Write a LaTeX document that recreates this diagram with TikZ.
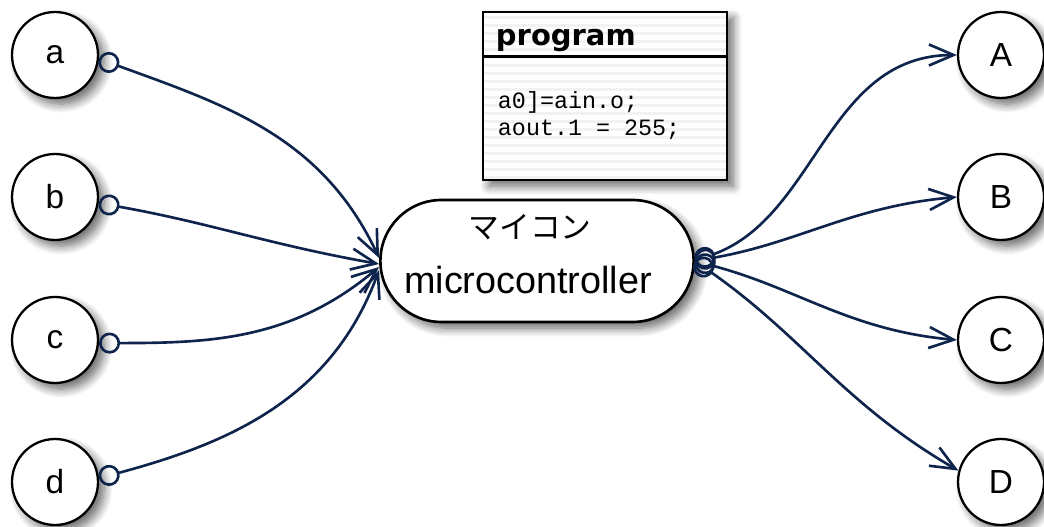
\documentclass[tikz,border=0pt]{standalone}
\usepackage{fontspec}
\setmainfont{Liberation Sans}
\newfontfamily\jpfont{Noto Sans CJK JP}
\newfontfamily\codefont{Liberation Mono}
\newfontfamily\headfont{DejaVu Sans}
\usetikzlibrary{arrows.meta, positioning, shapes.misc, shadows.blur}

\definecolor{wirecol}{RGB}{14,36,76}

\tikzset{
  soft/.style={blur shadow={shadow xshift=3.5pt, shadow yshift=-3.5pt, shadow blur radius=5pt, shadow opacity=60, shadow blur steps=10}},
  port/.style={circle, draw, line width=1.3pt, fill=white, minimum size=1.72cm, inner sep=0pt, soft, font=\fontsize{19}{22}\selectfont},
  link/.style={draw=wirecol, line width=1.5pt, {Circle[open,length=12pt]}-{Straight Barb[length=14pt,width=12pt]}}
}

\begin{document}
\begin{tikzpicture}[x=0.02cm, y=-0.02cm]
            \useasboundingbox (0,0) rectangle (1044,527);

            % Inputs
            \node[port] (a) at (55,55) {a};
            \node[port] (b) at (55,197) {b};
            \node[port] (c) at (55,340) {c};
            \node[port] (d) at (55,482) {d};

            % Outputs
            \node[port] (A) at (1001,55) {A};
            \node[port] (B) at (1001,197) {B};
            \node[port] (C) at (1001,340) {C};
            \node[port] (D) at (1001,482) {D};

            % Microcontroller
            \node[rounded rectangle, draw, line width=1.5pt, fill=white, soft,
                  minimum width=6.5cm, minimum height=2.44cm] (mc) at (537,261) {};
            \node[font=\jpfont\fontsize{17.5}{20}\selectfont] (mcjp) at ([shift={(-7,-34)}]mc.center) {マイコン};
            \node[font=\fontsize{21.5}{24}\selectfont] (mcen) at ([shift={(-9,19)}]mc.center) {microcontroller};

            % Program box
            \node[draw, line width=1.6pt, fill=white, soft, minimum width=4.88cm, minimum height=3.36cm,
                  path picture={\foreach \k in {0,...,20}
                    \fill[black!5] ([shift={(0,4+8*\k)}]path picture bounding box.north west) rectangle ++(244,3);}]
                 (prog) at (605,96) {};
            \draw[line width=1.6pt] ([shift={(0,46)}]prog.north west) -- ([shift={(0,46)}]prog.north east);
            \node[anchor=base west, inner sep=0pt, font=\headfont\bfseries\fontsize{16.5}{18}\selectfont]
                 (ptitle) at ([shift={(14,35)}]prog.north west) {program};
            \node[anchor=base west, inner sep=0pt, font=\codefont\fontsize{13.3}{15}\selectfont]
                 (pline1) at ([shift={(16,98)}]prog.north west) {a0]=ain.o;};
            \node[anchor=base west, inner sep=0pt, font=\codefont\fontsize{13.3}{15}\selectfont]
                 (pline2) at ([shift={(16,125)}]prog.north west) {aout.1 = 255;};

            % Input wires
            \draw[link] (a.-5) to[out=-20, in=115] ([shift={(0,-3)}]mc.west);
            \draw[link] (b.-8) to[out=-10, in=170] ([shift={(0,3)}]mc.west);
            \draw[link] (c.-4) to[out=0, in=220] ([shift={(0,6)}]mc.west);
            \draw[link] (d.5) to[out=15, in=250] ([shift={(0,9)}]mc.west);

            % Output wires
            \draw[link] (mc.east) to[out=20, in=180] (A.west);
            \draw[link] (mc.east) to[out=10, in=185] (B.west);
            \draw[link] (mc.east) to[out=-15, in=175] (C.west);
            \draw[link] (mc.east) to[out=-35, in=150] (D.165);
        \end{tikzpicture}
\end{document}
